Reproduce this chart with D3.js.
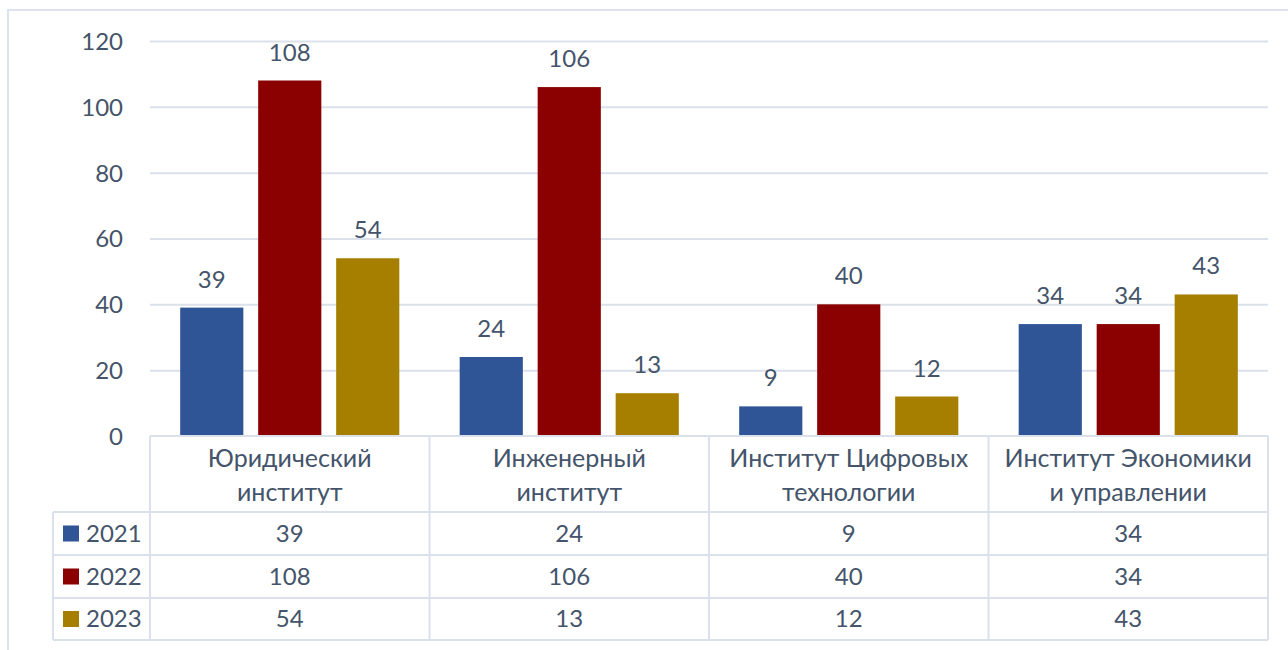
<!DOCTYPE html>
<html><head><meta charset="utf-8">
<script src="https://cdn.jsdelivr.net/npm/d3@7"></script>
<style>body{margin:0;background:#fff}svg{display:block}text{font-family:Lato,"Open Sans",sans-serif;fill:#44546a}</style>
</head><body><svg id="c" width="1288" height="650"></svg>
<script>
const categories = [["Юридический","институт"],["Инженерный","институт"],["Институт Цифровых","технологии"],["Институт Экономики","и управлении"]];
const seriesNames = ["2021","2022","2023"];
const values2021 = [39,24,9,34];
const values2022 = [108,106,40,34];
const values2023 = [54,13,12,43];
const yTicks = [0,20,40,60,80,100,120];
const colors = ["#2f5597","#8b0000","#a67f00"];
const series = [values2021, values2022, values2023];

const svg = d3.select("#c");
const grid = "#dbe1ea";
svg.append("rect").attr("x",8).attr("y",10).attr("width",1320).attr("height",700).attr("fill","none").attr("stroke","#dde3ec").attr("stroke-width",2);

const x0 = d3.scaleBand().domain(d3.range(categories.length)).range([150,1268]);
const x1 = d3.scaleBand().domain(d3.range(seriesNames.length)).range([0,x0.bandwidth()]).paddingInner(0.19).paddingOuter(0.387);
const y = d3.scaleLinear().domain([0,120]).range([436,41]);

const yAxis = d3.axisLeft(y).tickValues(yTicks).tickSize(-1118).tickPadding(27);
const ga = svg.append("g").attr("transform","translate(150,0)").call(yAxis);
ga.select(".domain").remove();
ga.selectAll(".tick line").attr("stroke",grid).attr("stroke-width",2);
ga.selectAll(".tick text").attr("font-size",24).style("fill","#44546a").attr("dy","0.35em");
ga.selectAll(".tick").filter(d=>d===0).select("line").remove();

const gBars = svg.append("g");
series.forEach((vals,si)=>{
  gBars.selectAll(null).data(vals).join("rect")
    .attr("x",(d,i)=>x0(i)+x1(si)).attr("width",x1.bandwidth())
    .attr("y",d=>y(d)).attr("height",d=>y(0)-y(d)).attr("fill",colors[si]);
  gBars.selectAll(null).data(vals).join("text")
    .attr("x",(d,i)=>x0(i)+x1(si)+x1.bandwidth()/2).attr("y",d=>y(d)-20)
    .attr("text-anchor","middle").attr("font-size",24).text(d=>d);
});

// table
const tb = svg.append("g");
const rowY = [436,512,555,598,640];
const line = (x1_,y1_,x2_,y2_)=>tb.append("line").attr("x1",x1_).attr("y1",y1_).attr("x2",x2_).attr("y2",y2_).attr("stroke",grid).attr("stroke-width",2);
line(150,436,1268,436);
line(53,512,1268,512);
line(53,555,1268,555);
line(53,598,1268,598);
line(53,640,1268,640);
line(53,512,53,640);
[0,1,2,3].forEach(i=>line(x0(i),436,x0(i),640));
line(1268,436,1268,640);

categories.forEach((c,i)=>{
  c.forEach((t,j)=>tb.append("text").attr("x",x0(i)+x0.bandwidth()/2).attr("y",458+j*34).attr("dy","0.35em").attr("text-anchor","middle").attr("font-size",25).text(t));
});
series.forEach((vals,si)=>{
  const cy = (rowY[si+1]+rowY[si+2])/2;
  tb.append("rect").attr("x",63).attr("y",cy-8).attr("width",16).attr("height",16).attr("fill",colors[si]);
  tb.append("text").attr("x",86).attr("y",cy).attr("dy","0.35em").attr("font-size",24).text(seriesNames[si]);
  vals.forEach((v,i)=>tb.append("text").attr("x",x0(i)+x0.bandwidth()/2).attr("y",cy).attr("dy","0.35em").attr("text-anchor","middle").attr("font-size",24).text(v));
});
</script></body></html>
